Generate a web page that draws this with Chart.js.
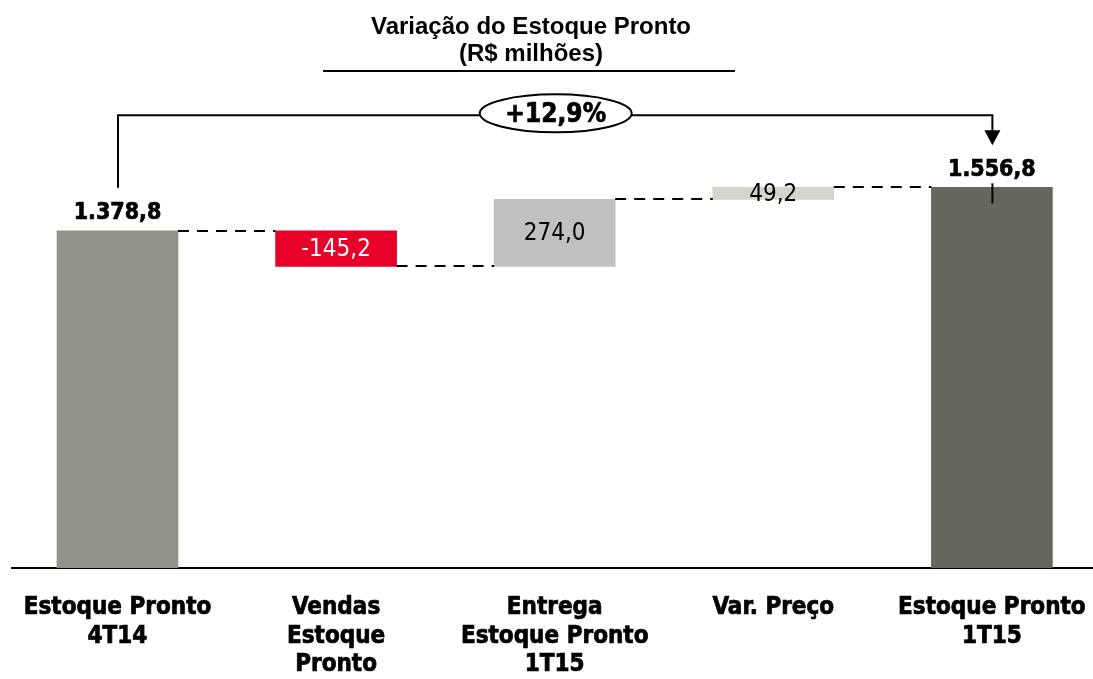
<!DOCTYPE html>
<html>
<head>
<meta charset="utf-8">
<script src="https://cdn.jsdelivr.net/npm/chart.js@4.4.1/dist/chart.umd.min.js"></script>
<style>
html,body{margin:0;padding:0;background:#fff;}
#wrap{width:1093px;height:679px;position:relative;}
</style>
</head>
<body>
<div id="wrap"><canvas id="c" width="1093" height="679"></canvas></div>
<script>
// ---- data ----
const categories = [
  ['Estoque Pronto', '4T14'],
  ['Vendas', 'Estoque', 'Pronto'],
  ['Entrega', 'Estoque Pronto', '1T15'],
  ['Var. Preço'],
  ['Estoque Pronto', '1T15']
];
const values = [1378.8, -145.2, 274.0, 49.2, 1556.8];
const kinds = ['total', 'delta', 'delta', 'delta', 'total'];
const valueLabels = ['1.378,8', '-145,2', '274,0', '49,2', '1.556,8'];
const growthLabel = '+12,9%';
const titleLines = ['Variação do Estoque Pronto', '(R$ milhões)'];
const barColors = ['#93938a', '#e6002a', '#c0c0c0', '#d4d4ca', '#66665c'];
const labelColors = ['#000', '#fff', '#000', '#000', '#000'];

// build floating ranges
let running = 0;
const ranges = values.map((v, i) => {
  let r;
  if (kinds[i] === 'total') { r = [0, v]; running = v; }
  else { r = [running, running + v]; running += v; }
  return r;
});
const points = ranges.map((r, i) => ({ x: i, y: r }));

const LABEL_FONT = "'DejaVu Sans Condensed', 'DejaVu Sans', Tahoma, sans-serif";

function heavyText(ctx, txt, x, y) {
  ctx.lineWidth = 0.7;
  ctx.strokeStyle = ctx.fillStyle;
  ctx.strokeText(txt, x, y);
  ctx.fillText(txt, x, y);
}

const annot = {
  id: 'annot',
  afterDatasetsDraw(chart) {
    const ctx = chart.ctx;
    const ys = chart.scales.y;
    const meta = chart.getDatasetMeta(0);
    ctx.save();
    // connectors
    ctx.strokeStyle = '#000';
    ctx.lineWidth = 2;
    ctx.setLineDash([11, 8]);
    for (let i = 0; i < values.length - 1; i++) {
      const a = meta.data[i], b = meta.data[i + 1];
      const y = Math.round(ys.getPixelForValue(ranges[i][1]));
      ctx.beginPath();
      ctx.moveTo(a.x + a.width / 2, y);
      ctx.lineTo(b.x - b.width / 2, y);
      ctx.stroke();
    }
    ctx.setLineDash([]);
    // value labels
    ctx.textAlign = 'center';
    for (let i = 0; i < values.length; i++) {
      const el = meta.data[i];
      if (kinds[i] === 'total') {
        ctx.font = "bold 23px " + LABEL_FONT;
        ctx.fillStyle = '#000';
        ctx.textBaseline = 'bottom';
        heavyText(ctx, valueLabels[i], el.x, Math.min(el.y, el.base) - 6);
      } else {
        ctx.font = "24px " + LABEL_FONT;
        ctx.fillStyle = labelColors[i];
        ctx.textBaseline = 'middle';
        ctx.fillText(valueLabels[i], el.x, (el.y + el.base) / 2 + 1);
      }
    }
    // bracket
    const first = meta.data[0], last = meta.data[values.length - 1];
    const topLast = Math.min(last.y, last.base);
    const topFirst = Math.min(first.y, first.base);
    const by = topLast - 72;
    ctx.strokeStyle = '#000';
    ctx.lineWidth = 2;
    ctx.beginPath();
    ctx.moveTo(first.x + 0.5, topFirst - 43);
    ctx.lineTo(first.x + 0.5, by);
    ctx.lineTo(last.x + 0.5, by);
    ctx.lineTo(last.x + 0.5, by + 16);
    ctx.stroke();
    ctx.beginPath();
    ctx.moveTo(last.x + 0.5 - 8, by + 15);
    ctx.lineTo(last.x + 0.5 + 8, by + 15);
    ctx.lineTo(last.x + 0.5, by + 30);
    ctx.closePath();
    ctx.fillStyle = '#000';
    ctx.fill();
    // small tick in last bar
    ctx.beginPath();
    ctx.moveTo(last.x + 0.5, topLast - 4);
    ctx.lineTo(last.x + 0.5, topLast + 16);
    ctx.stroke();
    // oval
    const ox = meta.data[2].x;
    ctx.beginPath();
    ctx.ellipse(ox + 1, by - 2, 76, 19, 0, 0, Math.PI * 2);
    ctx.fillStyle = '#fff';
    ctx.fill();
    ctx.stroke();
    ctx.fillStyle = '#000';
    ctx.font = "bold 26px " + LABEL_FONT;
    ctx.textBaseline = 'middle';
    heavyText(ctx, growthLabel, ox + 1, by);
    // title
    ctx.font = "bold 24px 'Liberation Sans', Arial, sans-serif";
    ctx.textBaseline = 'middle';
    ctx.fillText(titleLines[0], 531, 27);
    ctx.fillText(titleLines[1], 531, 54);
    ctx.strokeStyle = '#000';
    ctx.lineWidth = 2;
    ctx.beginPath();
    ctx.moveTo(323, 71);
    ctx.lineTo(735, 71);
    ctx.stroke();
    ctx.restore();
  }
};

new Chart(document.getElementById('c'), {
  type: 'bar',
  data: {
    datasets: [{
      data: points,
      backgroundColor: barColors,
      borderWidth: 0,
      barThickness: 121
    }]
  },
  options: {
    responsive: false,
    animation: false,
    layout: { padding: { left: 12, right: 0, top: 100, bottom: 0 } },
    plugins: { legend: { display: false }, tooltip: { enabled: false }, title: { display: false } },
    scales: {
      x: {
        type: 'linear',
        offset: false,
        min: -0.4826,
        max: 4.4625,
        grid: { display: false, drawTicks: false },
        border: { display: true, color: '#000', width: 2 },
        afterBuildTicks(scale) { scale.ticks = categories.map((c, i) => ({ value: i })); },
        afterFit(scale) {
          scale.height = 111;
          scale.paddingLeft = 0;
          scale.paddingRight = 0;
        },
        ticks: {
          padding: 26,
          color: '#000',
          textStrokeColor: '#000',
          textStrokeWidth: 0.7,
          autoSkip: false,
          maxRotation: 0,
          font: { family: LABEL_FONT, size: 24, weight: 'bold', lineHeight: 1.18 },
          callback(v) { return categories[Math.round(v)] || ''; }
        }
      },
      y: {
        display: false,
        min: 0,
        max: 1914
      }
    }
  },
  plugins: [annot]
});
</script>
</body>
</html>
